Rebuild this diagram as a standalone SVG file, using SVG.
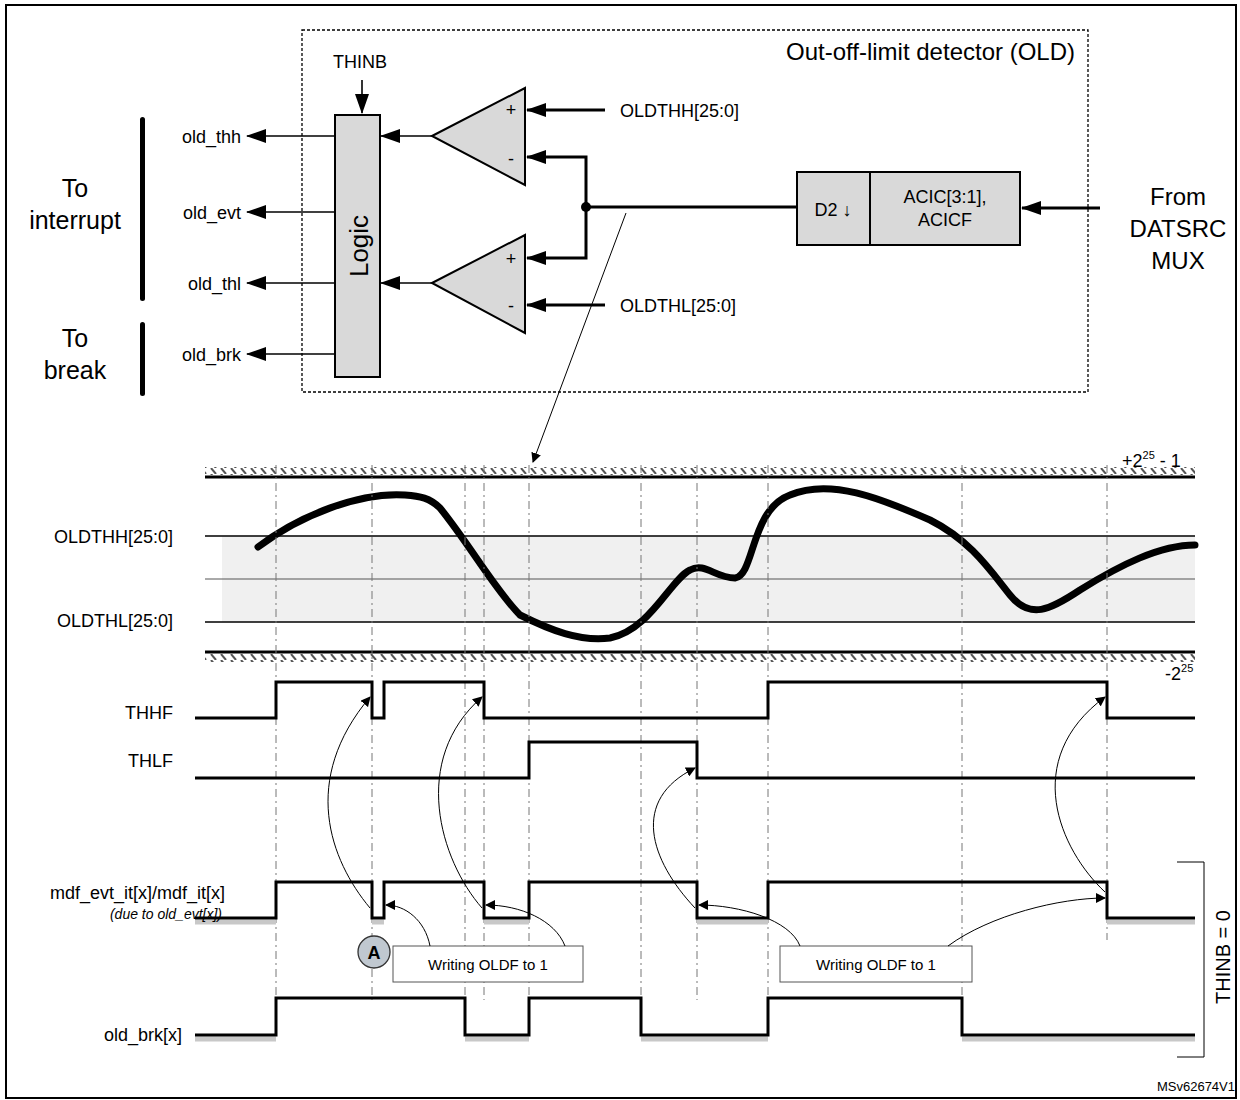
<svg xmlns="http://www.w3.org/2000/svg" width="1240" height="1100" viewBox="0 0 1240 1100">
<style>
text{font-family:"Liberation Sans",Arial,sans-serif;fill:#000}
.t{font-size:24px}.s{font-size:21px}.m{font-size:18px}
.w{fill:none;stroke:#000;stroke-width:1.6}
.wb{fill:none;stroke:#000;stroke-width:3}
.thin{fill:none;stroke:#000;stroke-width:1}
.vd{stroke:#777;stroke-width:1;stroke-dasharray:8,4,2,4}
.sh{stroke:#c8c8c8;stroke-width:5}
</style>
<defs>
<marker id="a" markerWidth="10" markerHeight="10" refX="9" refY="5" orient="auto" markerUnits="userSpaceOnUse"><path d="M0,0L10,5L0,10Z"/></marker>
<marker id="b" markerWidth="20" markerHeight="14" refX="19" refY="7" orient="auto" markerUnits="userSpaceOnUse"><path d="M0,0L20,7L0,14Z"/></marker>
<pattern id="h" width="10" height="6" patternUnits="userSpaceOnUse"><path d="M1,0L6,6" stroke="#555" stroke-width="2"/></pattern>
</defs>
<rect x="6" y="5" width="1230" height="1093" fill="#fff" stroke="#000" stroke-width="2"/>
<g id="old">
<rect x="302" y="30" width="786" height="362" fill="none" stroke="#000" stroke-width="1.3" stroke-dasharray="3,2"/>
<text x="1075" y="60" class="t" text-anchor="end">Out-off-limit detector (OLD)</text>
</g>
<g id="logic"><rect x="335" y="115" width="45" height="262" fill="#d9d9d9" stroke="#000" stroke-width="2"/>
<text transform="translate(368,246) rotate(-90)" font-size="26" text-anchor="middle">Logic</text></g>
<g id="cmp1"><polygon points="432,136 525,88 525,185" fill="#d9d9d9" stroke="#000" stroke-width="2"/><text x="511" y="116" class="m" text-anchor="middle">+</text><text x="511" y="165" class="m" text-anchor="middle">-</text></g>
<g id="cmp2"><polygon points="432,283 525,235 525,333" fill="#d9d9d9" stroke="#000" stroke-width="2"/><text x="511" y="265" class="m" text-anchor="middle">+</text><text x="511" y="312" class="m" text-anchor="middle">-</text></g>
<g id="filt"><rect x="797" y="172" width="73" height="73" fill="#d9d9d9" stroke="#000" stroke-width="2"/><rect x="870" y="172" width="150" height="73" fill="#d9d9d9" stroke="#000" stroke-width="2"/>
<text x="833" y="216" class="m" text-anchor="middle">D2 ↓</text><text x="945" y="203" class="m" text-anchor="middle">ACIC[3:1],</text><text x="945" y="226" class="m" text-anchor="middle">ACICF</text></g>
<g id="labels">
<text x="360" y="68" class="m" text-anchor="middle">THINB</text>
<text x="241" y="143" class="m" text-anchor="end">old_thh</text>
<text x="241" y="219" class="m" text-anchor="end">old_evt</text>
<text x="241" y="290" class="m" text-anchor="end">old_thl</text>
<text x="241" y="361" class="m" text-anchor="end">old_brk</text>
<text x="75" y="197" font-size="25" text-anchor="middle">To</text><text x="75" y="229" font-size="25" text-anchor="middle">interrupt</text>
<text x="75" y="347" font-size="25" text-anchor="middle">To</text><text x="75" y="379" font-size="25" text-anchor="middle">break</text>
<text x="620" y="117" class="m">OLDTHH[25:0]</text>
<text x="620" y="312" class="m">OLDTHL[25:0]</text>
<text x="1178" y="205" font-size="24" text-anchor="middle">From</text><text x="1178" y="237" font-size="24" text-anchor="middle">DATSRC</text><text x="1178" y="269" font-size="24" text-anchor="middle">MUX</text>
<rect x="140" y="117" width="5" height="184" rx="2.5"/><rect x="140" y="322" width="5" height="74" rx="2.5"/>
</g>
<g id="connectors">
<path d="M362,80V113" class="w" marker-end="url(#b)"/>
<path d="M335,136H247" class="w" marker-end="url(#b)"/>
<path d="M335,212H247" class="w" marker-end="url(#b)"/>
<path d="M335,283H247" class="w" marker-end="url(#b)"/>
<path d="M335,354H247" class="w" marker-end="url(#b)"/>
<path d="M432,136H381" class="w" marker-end="url(#b)"/><path d="M432,283H381" class="w" marker-end="url(#b)"/>
<path d="M605,110H527" class="wb" marker-end="url(#b)"/><path d="M605,305H527" class="wb" marker-end="url(#b)"/>
<path d="M586,207V157H527" class="wb" marker-end="url(#b)"/><path d="M586,207V258H527" class="wb" marker-end="url(#b)"/>
<path d="M586,207H797" class="wb"/><circle cx="586" cy="207" r="5"/>
<path d="M1100,208H1022" class="wb" marker-end="url(#b)"/>
<path d="M626,213L533,462" class="thin" marker-end="url(#a)"/>
</g>
<g id="chart">
<rect x="222" y="536" width="973" height="86" fill="#f0f0f0"/>
<rect x="205" y="467" width="990" height="8" fill="url(#h)"/>
<rect x="205" y="654" width="990" height="8" fill="url(#h)"/>
<path d="M205,477H1195M205,652H1195" stroke="#000" stroke-width="3"/>
<path d="M205,536H1195M205,622H1195" stroke="#000" stroke-width="1.5"/>
<path d="M205,579H1195" stroke="#555" stroke-width="1"/>
<text x="173" y="543" class="m" text-anchor="end">OLDTHH[25:0]</text>
<text x="173" y="627" class="m" text-anchor="end">OLDTHL[25:0]</text>
<text x="1122" y="467" font-size="18">+2<tspan font-size="11" dy="-8">25</tspan><tspan dy="8"> - 1</tspan></text>
<text x="1165" y="680" font-size="18">-2<tspan font-size="11" dy="-8">25</tspan></text>
<path d="M258,547C300,515 360,492 405,495C420,496 430,498 440,508C470,545 495,590 520,615C550,630 580,642 610,638C650,630 670,580 690,570C705,562 715,578 735,578C755,575 750,510 790,495C830,478 880,498 930,520C970,540 990,570 1010,595C1030,620 1050,610 1080,590C1120,565 1160,545 1195,545" fill="none" stroke="#000" stroke-width="7" stroke-linecap="round"/>
<path d="M276,465V1005M372,465V1000M465,465V1005M484,465V1000M529,465V1005M641,465V1005M697,465V1000M768,465V1005M962,465V1005M1107,465V940" class="vd"/>
<path d="M195,922H276M372,922H384M484,922H529M697,922H768M1107,922H1195M195,1039H276M465,1039H529M641,1039H768M962,1039H1195" class="sh"/>
<path d="M195,718H276V682H372V718H384V682H484V718H768V682H1107V718H1195" class="wb"/>
<path d="M195,778H529V742H697V778H1195" class="wb"/>
<path d="M195,918H276V882H372V918H384V882H484V918H529V882H697V918H768V882H1107V918H1195" class="wb"/>
<path d="M195,1035H276V998H465V1035H529V998H641V1035H768V998H962V1035H1195" class="wb"/>
<text x="173" y="719" class="m" text-anchor="end">THHF</text>
<text x="173" y="767" class="m" text-anchor="end">THLF</text>
<text x="225" y="899" class="m" text-anchor="end">mdf_evt_it[x]/mdf_it[x]</text>
<text x="222" y="919" font-size="14" font-style="italic" text-anchor="end">(due to old_evt[x])</text>
<text x="182" y="1041" class="m" text-anchor="end">old_brk[x]</text>
<path d="M1177,862H1204V1057H1177" class="thin"/>
<text transform="translate(1230,957) rotate(-90)" font-size="20" text-anchor="middle">THINB = 0</text>
<text x="1235" y="1091" font-size="13" text-anchor="end">MSv62674V1</text>
</g>
<g id="notes">
<rect x="393" y="946" width="190" height="36" fill="#fff" stroke="#555"/><text x="488" y="970" font-size="15" text-anchor="middle">Writing OLDF to 1</text>
<rect x="780" y="946" width="192" height="36" fill="#fff" stroke="#555"/><text x="876" y="970" font-size="15" text-anchor="middle">Writing OLDF to 1</text>
<circle cx="374" cy="952" r="16" fill="#c0c8d0" stroke="#333" stroke-width="1.3"/><text x="374" y="959" font-size="18" font-weight="bold" text-anchor="middle">A</text>
</g>
<g id="arrows">
<path d="M430,946C425,920 405,905 386,905" class="thin" marker-end="url(#a)"/>
<path d="M565,946C555,920 520,905 486,905" class="thin" marker-end="url(#a)"/>
<path d="M800,946C790,920 740,905 699,905" class="thin" marker-end="url(#a)"/>
<path d="M948,946C990,915 1060,898 1105,898" class="thin" marker-end="url(#a)"/>
<path d="M370,908C330,860 300,780 370,697" class="thin" marker-end="url(#a)"/>
<path d="M482,908C440,860 410,760 482,697" class="thin" marker-end="url(#a)"/>
<path d="M695,908C650,860 630,800 695,768" class="thin" marker-end="url(#a)"/>
<path d="M1105,892C1060,850 1020,760 1105,697" class="thin" marker-end="url(#a)"/>
</g>
</svg>
